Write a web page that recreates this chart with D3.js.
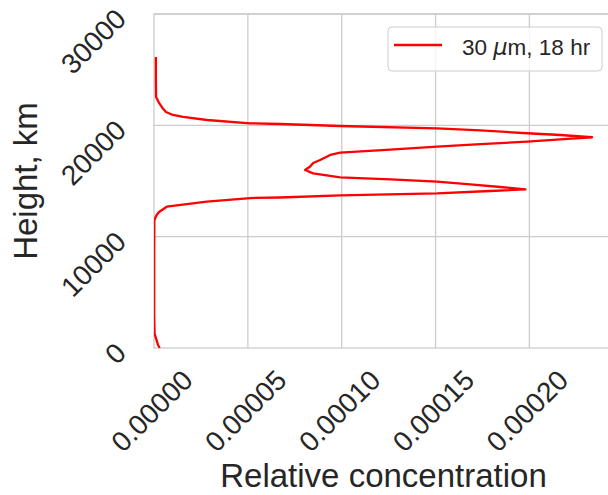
<!DOCTYPE html>
<html>
<head>
<meta charset="utf-8">
<script src="https://cdn.jsdelivr.net/npm/d3@7"></script>
<style>
  body { margin: 0; background: #fff; }
  svg { display: block; font-family: "Liberation Sans", Arial, sans-serif; }
</style>
</head>
<body>
<svg></svg>
<script>
// profile: height (m) and relative concentration
const heights = [
  0, 300, 1300, 3000, 6000, 9000, 11500, 11950, 12220, 12690, 13140, 13470,
  13520, 13700, 13880, 14100, 14250, 14460, 14690, 14940, 15140, 15330, 15690,
  15990, 16300, 16620, 16890, 17340, 17540, 17810, 18080, 18320, 18530, 18730,
  18930, 19130, 19290, 19540, 19730, 19940, 20120, 20180, 20480, 20750, 20930,
  21200, 21560, 22010, 22550, 24070, 26140
];
const concentrations = [
  3.0e-6, 2.1e-6, 0.3e-6, 0.1e-6, 0.1e-6, 0.1e-6, 0.2e-6, 1.4e-6, 2.7e-6,
  6.8e-6, 2.81e-5, 5.12e-5, 6.72e-5, 9.92e-5, 1.508e-4, 1.79e-4, 1.979e-4,
  1.845e-4, 1.685e-4, 1.508e-4, 1.259e-4, 9.92e-5, 8.48e-5, 8.05e-5, 8.32e-5,
  8.48e-5, 8.85e-5, 9.39e-5, 9.92e-5, 1.259e-4, 1.508e-4, 1.739e-4, 1.988e-4,
  2.165e-4, 2.334e-4, 2.165e-4, 1.988e-4, 1.739e-4, 1.508e-4, 9.92e-5,
  6.72e-5, 5.12e-5, 2.83e-5, 1.55e-5, 1.01e-5, 6.4e-6, 4.5e-6, 2.7e-6,
  1.1e-6, 1.0e-6, 1.0e-6
];
const xTicks = [0, 0.00005, 0.0001, 0.00015, 0.0002];
const yTicks = [0, 10000, 20000, 30000];

const svg = d3.select("svg");

const sizes = {
  width: 608,
  height: 495,
  plot: { left: 154, right: 614, top: 14, bottom: 348 }
};

svg.attr("width", sizes.width).attr("height", sizes.height);

const textColor = "#262626";
const gridColor = "#cccccc";

const x = d3
  .scaleLinear()
  .domain([0, d3.max(concentrations) * 1.05])
  .range([sizes.plot.left, sizes.plot.right]);

const y = d3
  .scaleLinear()
  .domain([0, 30000])
  .range([sizes.plot.bottom, sizes.plot.top]);

svg
  .append("clipPath")
  .attr("id", "plot-clip")
  .append("rect")
  .attr("x", sizes.plot.left)
  .attr("y", sizes.plot.top)
  .attr("width", sizes.plot.right - sizes.plot.left)
  .attr("height", sizes.plot.bottom - sizes.plot.top);

// grid
svg
  .append("g")
  .selectAll("line")
  .data(xTicks.slice(1))
  .enter()
  .append("line")
  .attr("x1", d => x(d))
  .attr("x2", d => x(d))
  .attr("y1", sizes.plot.top)
  .attr("y2", sizes.plot.bottom)
  .attr("stroke", gridColor)
  .attr("stroke-width", 1.3);

svg
  .append("g")
  .selectAll("line")
  .data(yTicks.slice(1))
  .enter()
  .append("line")
  .attr("x1", sizes.plot.left)
  .attr("x2", sizes.plot.right)
  .attr("y1", d => y(d))
  .attr("y2", d => y(d))
  .attr("stroke", gridColor)
  .attr("stroke-width", 1.3);

// frame
svg
  .append("rect")
  .attr("x", sizes.plot.left)
  .attr("y", sizes.plot.top)
  .attr("width", sizes.plot.right - sizes.plot.left)
  .attr("height", sizes.plot.bottom - sizes.plot.top)
  .attr("fill", "none")
  .attr("stroke", gridColor)
  .attr("stroke-width", 1.3);

// profile line
const lineCreater = d3
  .line()
  .x(d => x(d[1]))
  .y(d => y(d[0]));

svg
  .append("path")
  .datum(heights.map((h, i) => [h, concentrations[i]]))
  .attr("d", lineCreater)
  .attr("clip-path", "url(#plot-clip)")
  .attr("fill", "none")
  .attr("stroke", "#ff0000")
  .attr("stroke-width", 2.3)
  .attr("stroke-linejoin", "round");

// tick labels
const fmt = d3.format(".5f");

svg
  .append("g")
  .selectAll("text")
  .data(xTicks)
  .enter()
  .append("text")
  .text(d => fmt(d))
  .attr("transform", d => `translate(${x(d) - 2}, 411) rotate(-45)`)
  .attr("text-anchor", "middle")
  .attr("dominant-baseline", "central")
  .attr("font-size", 28)
  .attr("fill", textColor);

svg
  .append("g")
  .selectAll("text")
  .data(yTicks)
  .enter()
  .append("text")
  .text(d => d)
  .attr("transform", d => `translate(121, ${y(d)}) rotate(-45)`)
  .attr("text-anchor", "end")
  .attr("dominant-baseline", "central")
  .attr("font-size", 28)
  .attr("fill", textColor);

// axis titles
svg
  .append("text")
  .text("Relative concentration")
  .attr("x", 383.5)
  .attr("y", 487)
  .attr("text-anchor", "middle")
  .attr("font-size", 33)
  .attr("fill", textColor);

svg
  .append("text")
  .text("Height, km")
  .attr("transform", `translate(37, ${(sizes.plot.top + sizes.plot.bottom) / 2}) rotate(-90)`)
  .attr("text-anchor", "middle")
  .attr("font-size", 33)
  .attr("fill", textColor);

// legend
const legend = svg.append("g").attr("transform", "translate(388, 27)");

legend
  .append("rect")
  .attr("width", 214)
  .attr("height", 44)
  .attr("rx", 4)
  .attr("fill", "rgba(255,255,255,0.8)")
  .attr("stroke", gridColor)
  .attr("stroke-width", 1);

legend
  .append("line")
  .attr("x1", 6)
  .attr("x2", 54)
  .attr("y1", 18)
  .attr("y2", 18)
  .attr("stroke", "#ff0000")
  .attr("stroke-width", 2.5);

const legendText = legend
  .append("text")
  .attr("x", 74)
  .attr("y", 28)
  .attr("font-size", 22.5)
  .attr("fill", textColor);

legendText.append("tspan").text("30 ");
legendText
  .append("tspan")
  .text("µ")
  .attr("font-style", "italic")
  .attr("font-family", "DejaVu Sans");
legendText.append("tspan").text("m, 18 hr");
</script>
</body>
</html>
